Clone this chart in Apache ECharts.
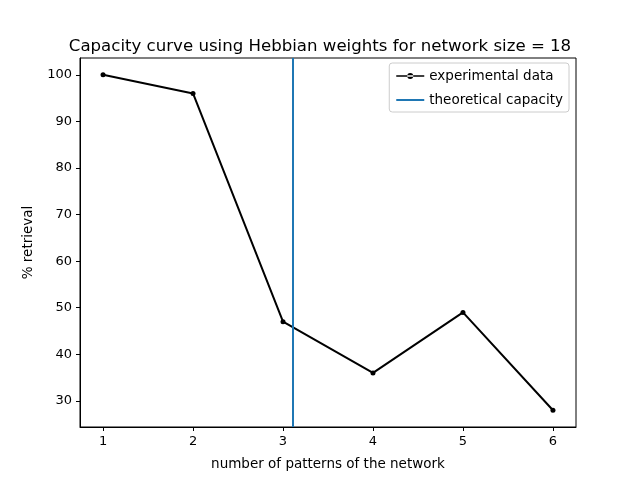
<!DOCTYPE html>
<html>
<head>
<meta charset="utf-8">
<script src="https://cdn.jsdelivr.net/npm/echarts@6/dist/echarts.min.js"></script>
<style>body{margin:0}#c{width:640px;height:480px}</style>
</head>
<body>
<div id="c"></div>
<script>
var patterns = [1, 2, 3, 4, 5, 6];
var retrieval = [100, 96, 47, 36, 49, 28];
var capacity = 3.11;
var xTicks = [1, 2, 3, 4, 5, 6];
var yTicks = [30, 40, 50, 60, 70, 80, 90, 100];

var chart = echarts.init(document.getElementById('c'));
var font = 'DejaVu Sans';
chart.setOption({
  animation: false,
  textStyle: {fontFamily: font},
  title: {
    text: 'Capacity curve using Hebbian weights for network size = 18',
    left: 'center', top: 33,
    textStyle: {fontFamily: font, fontSize: 16.6, fontWeight: 'normal', color: '#000'}
  },
  grid: {left: 80, right: 64, top: 58, bottom: 53, show: true, borderColor: '#000', borderWidth: 1},
  legend: {
    right: 71, top: 63, orient: 'vertical', itemGap: 10, itemWidth: 28,
    borderColor: '#ccc', borderWidth: 1, borderRadius: 3, padding: [6, 6, 5, 7],
    textStyle: {fontFamily: font, fontSize: 13.5, color: '#000'},
    data: [
      {name: 'experimental data', icon: 'path://M0,2.25L28,2.25L28,3.75L0,3.75Z M11,3a3,3 0 1,0 6,0a3,3 0 1,0 -6,0Z', itemStyle: {color: '#000'}},
      {name: 'theoretical capacity', icon: 'path://M0,0L28,0L28,2L0,2Z', itemStyle: {color: '#1f77b4'}}
    ]
  },
  xAxis: {
    type: 'value', min: 0.744, max: 6.256,
    name: 'number of patterns of the network', nameLocation: 'middle', nameGap: 30,
    nameTextStyle: {fontFamily: font, fontSize: 13.5, color: '#000'},
    axisLine: {lineStyle: {color: '#000'}},
    axisTick: {show: true, customValues: xTicks, length: 4, lineStyle: {color: '#000'}},
    axisLabel: {customValues: xTicks, color: '#000', fontSize: 13, fontFamily: font},
    splitLine: {show: false}
  },
  yAxis: {
    type: 'value', min: 24.4, max: 103.6,
    name: '% retrieval', nameLocation: 'middle', nameGap: 45,
    nameTextStyle: {fontFamily: font, fontSize: 13.5, color: '#000'},
    axisLine: {show: true, lineStyle: {color: '#000'}},
    axisTick: {show: true, customValues: yTicks, length: 4, lineStyle: {color: '#000'}},
    axisLabel: {customValues: yTicks, color: '#000', fontSize: 13, fontFamily: font},
    splitLine: {show: false}
  },
  series: [
    {
      name: 'experimental data', type: 'line',
      data: patterns.map(function (p, i) { return [p, retrieval[i]]; }),
      symbol: 'circle', symbolSize: 5,
      lineStyle: {color: '#000', width: 2},
      itemStyle: {color: '#000'}
    },
    {
      name: 'theoretical capacity', type: 'line', data: [],
      itemStyle: {color: '#1f77b4'}, lineStyle: {color: '#1f77b4', width: 2},
      symbol: 'none',
      markLine: {
        silent: true, symbol: 'none', label: {show: false},
        lineStyle: {color: '#1f77b4', width: 2, type: 'solid'},
        data: [{xAxis: capacity}]
      }
    }
  ]
});
</script>
</body>
</html>
